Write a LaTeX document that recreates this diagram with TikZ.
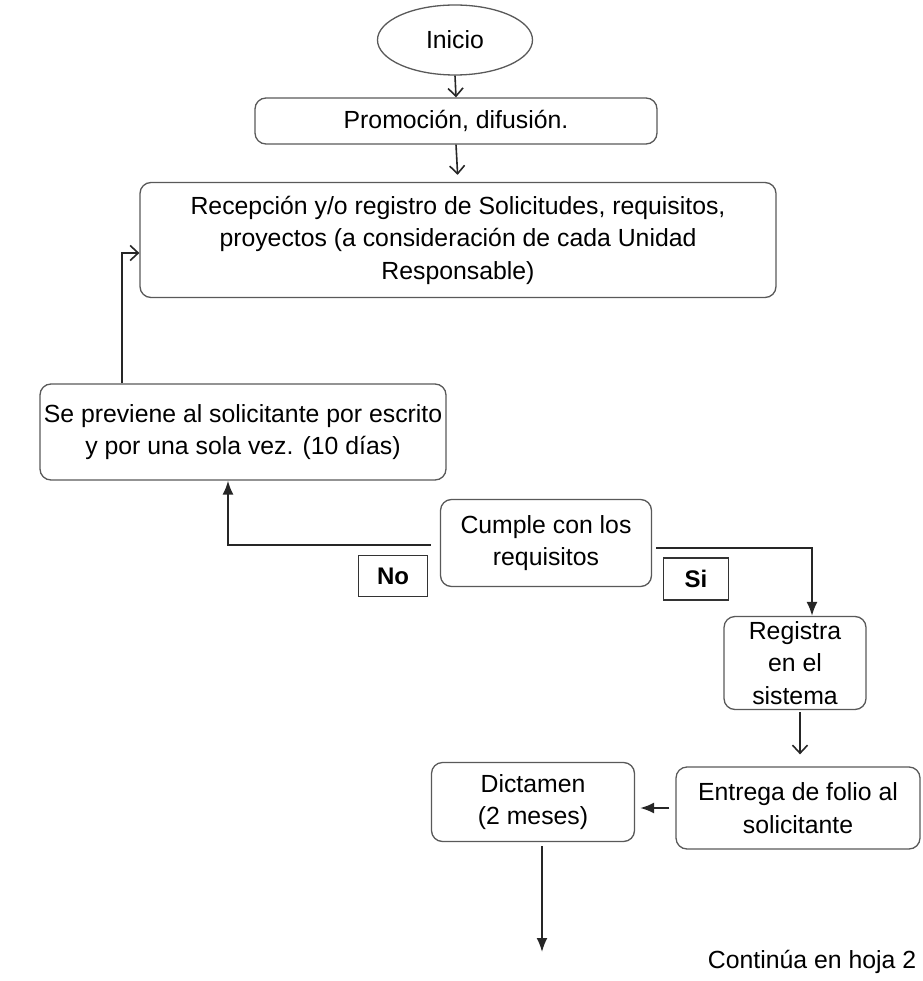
\documentclass[tikz,border=0pt]{standalone}
\usepackage{fontspec}
\setmainfont{Liberation Sans}
\usetikzlibrary{shapes.geometric,arrows.meta}
\tikzset{%
  flowbox/.style   = {shape=rectangle, rounded corners=11pt,%
                      draw=black!65, line width=1.3pt, align=center,%
                      inner sep=0pt},%
  startnode/.style = {shape=ellipse, draw=black!65, line width=1.3pt,%
                      inner sep=0pt},%
  answer/.style    = {shape=rectangle, draw=black!80, line width=1.3pt,%
                      font=\fontsize{24}{28}\selectfont\bfseries, inner sep=0pt},%
  arr/.style       = {-{Latex[length=14pt,width=11pt]}, line width=1.8pt, black!85},%
  openarr/.style   = {-{Straight Barb[length=8pt,width=15pt]}, line width=1.6pt, black!85}%
}

\begin{document}
\begin{tikzpicture}
  [x=1pt, y=-1pt,
  every node/.style = {font=\fontsize{24.8}{32.5}\selectfont}]
  \useasboundingbox (0,0) rectangle (922,981);
  % boxes
  \node [startnode, minimum width=155, minimum height=70] (inicio) at (455,40) {Inicio};
  \node [flowbox, minimum width=402, minimum height=46] (promo) at (456,121) {Promoción, difusión.};
  \node [flowbox, minimum width=636, minimum height=115] (recep) at (458,240)
    {Recepción y/o registro de Solicitudes, requisitos,\\ proyectos (a consideración de cada Unidad\\ Responsable)};
  \node [flowbox, minimum width=406, minimum height=96] (prev) at (243,432)
    {Se previene al solicitante por escrito\\ y por una sola vez. (10 días)};
  \node [flowbox, minimum width=211, minimum height=87] (cumple) at (546,543) {Cumple con los\\ requisitos};
  \node [answer, minimum width=69, minimum height=41] (no) at (393,576) {No};
  \node [answer, minimum width=65, minimum height=42] (si) at (696,579) {Si};
  \node [flowbox, minimum width=142, minimum height=93] (reg) at (795,663) {Registra\\ en el\\ sistema};
  \node [flowbox, minimum width=244, minimum height=82] (ent) at (798,808) {Entrega de folio al\\ solicitante};
  \node [flowbox, minimum width=203, minimum height=79] (dict) at (533,802) {Dictamen\\ (2 meses)};
  \node (cont) at (812,962) {Continúa en hoja 2};
  \coordinate (fb) at (122,253);
  \coordinate (down) at (542,952);
  % connectors
  \draw [openarr] (inicio.south) -- (promo.north);
  \draw [openarr, shorten >=7pt] (promo.south) -- (recep.north);
  \draw [openarr] (prev.north -| fb) |- (recep.west |- fb);
  \draw [arr] ([xshift=-9pt,yshift=-2pt]cumple.west) -| ([xshift=-15pt]prev.south);
  \draw [arr] ([xshift=4pt,yshift=-5pt]cumple.east) -| ([xshift=17pt]reg.north);
  \draw [openarr, shorten <=2pt, shorten >=12pt] ([xshift=5pt]reg.south) -- ([xshift=2pt]ent.north);
  \draw [arr, shorten <=6pt, shorten >=5pt] (ent.west) -- (dict.east |- ent.west);
  \draw [arr, shorten <=4pt] ([xshift=9pt]dict.south) -- (down);
\end{tikzpicture}
\end{document}
